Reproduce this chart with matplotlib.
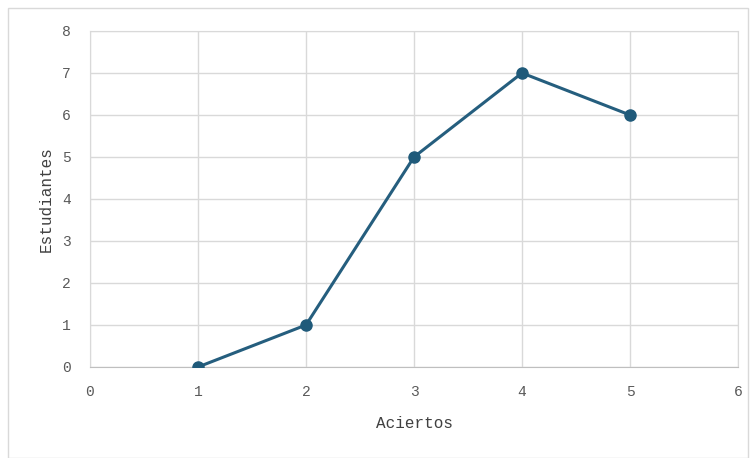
import matplotlib.pyplot as plt
from matplotlib.patches import Rectangle

aciertos = [1, 2, 3, 4, 5]
estudiantes = [0, 1, 5, 7, 6]
x_ticks = [0, 1, 2, 3, 4, 5, 6]
y_ticks = [0, 1, 2, 3, 4, 5, 6, 7, 8]

plt.rcParams['font.family'] = ['Liberation Mono', 'DejaVu Sans Mono']

fig = plt.figure(figsize=(7.56, 4.58), dpi=100)
fig.patches.append(Rectangle((8/756, 0.0), 740/756, 1 - 8/458, transform=fig.transFigure,
                             fill=False, edgecolor='#d9d9d9', linewidth=1))
ax = fig.add_axes([90/756, 1 - 367/458, 648/756, 336/458])

ax.plot(aciertos, estudiantes, color='#255e7e', linewidth=2.2, marker='o',
        markersize=8, markerfacecolor='#1f5a7a', markeredgecolor='#1f5a7a', zorder=3)

ax.set_xlim(0, 6)
ax.set_ylim(0, 8)
ax.set_xticks(x_ticks)
ax.set_yticks(y_ticks)
ax.grid(True, color='#d9d9d9', linewidth=1)
ax.set_axisbelow(True)
for s in ['top', 'right', 'left']:
    ax.spines[s].set_color('#d9d9d9')
ax.spines['bottom'].set_color('#bfbfbf')
ax.tick_params(length=0, labelsize=10.5, colors='#595959')
ax.tick_params(axis='x', pad=13)
ax.tick_params(axis='y', pad=14)

ax.set_xlabel("Aciertos", fontsize=11.5, color='#404040', labelpad=12)
ax.set_ylabel("Estudiantes", fontsize=11.5, color='#404040', labelpad=6)

fig.savefig('out.png')
